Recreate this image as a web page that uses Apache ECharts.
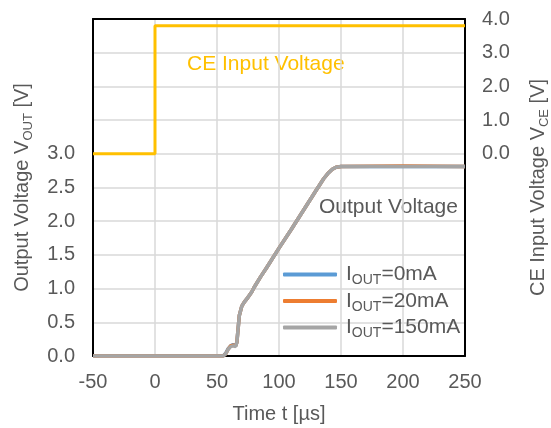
<!DOCTYPE html>
<html>
<head>
<meta charset="utf-8">
<script src="https://cdn.jsdelivr.net/npm/echarts@6/dist/echarts.min.js"></script>
<style>
html,body{margin:0;padding:0;background:#fff;overflow:hidden;}
#chart{width:551px;height:428px;}
</style>
</head>
<body>
<div id="chart"></div>
<script>
// ---- data ----
const xTicks = [-50, 0, 50, 100, 150, 200, 250];
const loadLabels = ['0mA', '20mA', '150mA'];
const ceVoltage = [[-50, 0], [0, 0], [0, 3.8], [250, 3.8]];
const vout0mA = [[-50,0],[55,0],[57,0.04],[59,0.11],[61,0.15],[63,0.17],[65,0.15],[66,0.2],[67,0.4],[68,0.6],[70,0.74],[72,0.8],[75,0.87],[78,0.95],[80,1.02],[85,1.17],[90,1.31],[100,1.6],[110,1.88],[120,2.17],[130,2.46],[136,2.63],[140,2.72],[143,2.77],[146,2.8],[150,2.81],[200,2.81],[250,2.81]];
const vout20mA = [[-50,0],[55,0],[57,0.03],[59,0.1],[61,0.15],[63,0.16],[65,0.15],[66,0.2],[67,0.4],[68,0.6],[70,0.74],[72,0.8],[75,0.87],[78,0.95],[80,1.02],[85,1.17],[90,1.31],[100,1.6],[110,1.88],[120,2.17],[130,2.46],[136,2.63],[140,2.72],[143,2.77],[146,2.8],[150,2.81],[200,2.82],[250,2.81]];
const vout150mA = [[-50,0],[55,0],[57,0.03],[59,0.1],[61,0.14],[63,0.15],[65,0.14],[66,0.2],[67,0.4],[68,0.6],[70,0.74],[72,0.8],[75,0.87],[78,0.95],[80,1.02],[85,1.17],[90,1.31],[100,1.6],[110,1.88],[120,2.17],[130,2.46],[136,2.63],[140,2.72],[143,2.77],[146,2.8],[150,2.81],[200,2.81],[250,2.81]];
const seriesColors = ['#5B9BD5', '#ED7D31', '#A5A5A5'];
const ceColor = '#FFC000';
const textColor = '#595959';

const chart = echarts.init(document.getElementById('chart'), null, {renderer: 'canvas'});
const FONT = 'Liberation Sans, Arial, sans-serif';
const subRich = {
  a: {fontSize: 20, fontFamily: FONT, color: textColor, lineHeight: 26},
  s: {fontSize: 13, fontFamily: FONT, color: textColor, lineHeight: 14, verticalAlign: 'bottom'}
};
const outSeries = [vout0mA, vout20mA, vout150mA].map((d, i) => ({
  name: 'IOUT=' + loadLabels[i],
  type: 'line',
  data: d,
  showSymbol: false,
  symbol: 'none',
  smooth: false,
  lineStyle: {width: 3.5, color: seriesColors[i]},
  itemStyle: {color: seriesColors[i]},
  z: 3 + i
}));

chart.setOption({
  animation: false,
  backgroundColor: '#fff',
  textStyle: {fontFamily: FONT},
  grid: {left: 93, right: 86, top: 19, bottom: 72, show: false,
         containLabel: false, outerBoundsMode: 'none'},
  xAxis: [{
    type: 'value', min: -50, max: 250, interval: 50,
    name: 'Time t [µs]', nameLocation: 'middle', nameGap: 48,
    nameTextStyle: {fontSize: 20, color: textColor, fontFamily: FONT},
    axisLine: {show: true, onZero: false, lineStyle: {color: '#000', width: 2}},
    axisTick: {show: false},
    axisLabel: {fontSize: 20, color: textColor, margin: 16, fontFamily: FONT},
    splitLine: {show: true, lineStyle: {color: '#D9D9D9', width: 1.5}}
  }, {
    type: 'value', min: -50, max: 250, interval: 50, position: 'top',
    axisLine: {show: true, onZero: false, lineStyle: {color: '#000', width: 2}},
    axisTick: {show: false}, axisLabel: {show: false}, splitLine: {show: false}
  }],
  yAxis: [{
    type: 'value', min: 0, max: 5, interval: 0.5, position: 'left',
    name: '{a|Output Voltage V}{s|OUT}{a| [V]}', nameLocation: 'middle', nameGap: 58,
    nameTextStyle: {rich: subRich},
    axisLine: {show: true, onZero: false, lineStyle: {color: '#000', width: 2}},
    axisTick: {show: false},
    axisLabel: {fontSize: 20, color: textColor, margin: 18, fontFamily: FONT,
      formatter: v => v <= 3.0001 ? v.toFixed(1) : ''},
    splitLine: {show: true, lineStyle: {color: '#D9D9D9', width: 1.5}}
  }, {
    type: 'value', min: -6, max: 4, interval: 1, position: 'right',
    name: '{a|CE Input Voltage V}{s|CE}{a| [V]}', nameLocation: 'middle', nameGap: 60, nameRotate: 90,
    nameTextStyle: {rich: subRich},
    axisLine: {show: true, onZero: false, lineStyle: {color: '#000', width: 2}},
    axisTick: {show: false},
    axisLabel: {fontSize: 20, color: textColor, margin: 17, fontFamily: FONT,
      formatter: v => v >= -0.0001 ? v.toFixed(1) : ''},
    splitLine: {show: false}
  }],
  legend: {
    orient: 'vertical', left: 278, top: 259, itemGap: 3,
    itemWidth: 54, itemHeight: 4, icon: 'roundRect',
    data: outSeries.map(s => s.name),
    formatter: n => '{a|I}{s|OUT}{a|' + n.slice(4) + '}',
    textStyle: {rich: {
      a: {fontSize: 21, fontFamily: FONT, color: textColor, lineHeight: 26},
      s: {fontSize: 14, fontFamily: FONT, color: textColor, lineHeight: 14, verticalAlign: 'bottom'}
    }, padding: [0, 0, 0, 4]}
  },
  graphic: [
    {type: 'text', left: 187, top: 54, style: {text: 'CE Input Voltage', fontSize: 21, fontFamily: FONT, fill: ceColor}},
    {type: 'text', left: 319, top: 197, style: {text: 'Output Voltage', fontSize: 21, fontFamily: FONT, fill: textColor}}
  ],
  series: [{
    name: 'CE', type: 'line', yAxisIndex: 1, data: ceVoltage, showSymbol: false, symbol: 'none',
    lineStyle: {width: 3, color: ceColor}, z: 6
  }].concat(outSeries)
});
</script>
</body>
</html>
